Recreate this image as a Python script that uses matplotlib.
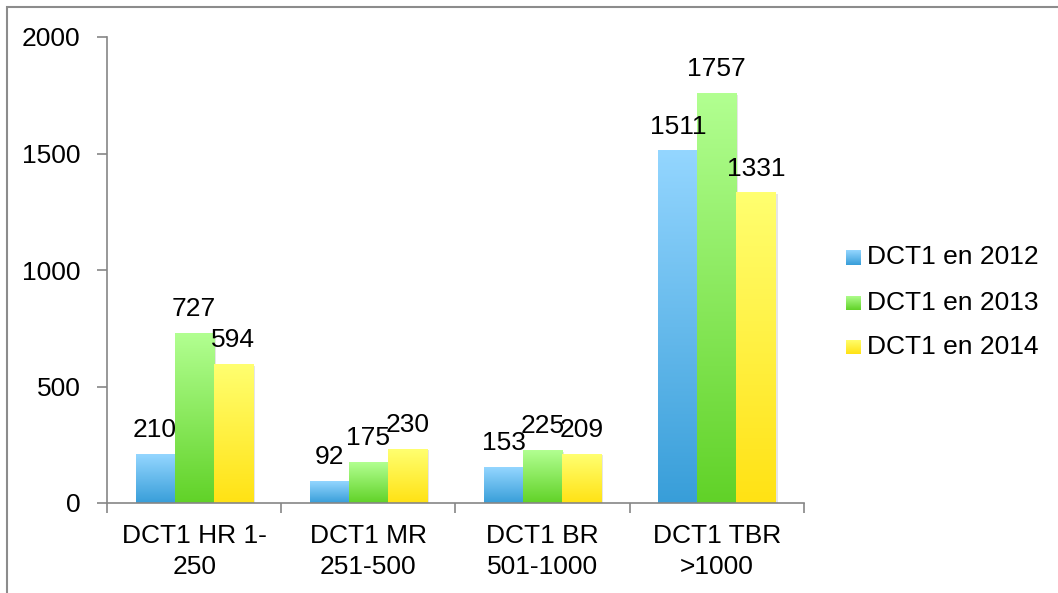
import numpy as np
import matplotlib
matplotlib.use("Agg")
import matplotlib.pyplot as plt
from matplotlib.colors import LinearSegmentedColormap
from matplotlib.patches import Rectangle

categories = ["DCT1 HR 1-\n250", "DCT1 MR\n251-500", "DCT1 BR\n501-1000", "DCT1 TBR\n>1000"]
series_names = ["DCT1 en 2012", "DCT1 en 2013", "DCT1 en 2014"]
v2012 = [210, 92, 153, 1511]
v2013 = [727, 175, 225, 1757]
v2014 = [594, 230, 209, 1331]
series = [v2012, v2013, v2014]
yticks = [0, 500, 1000, 1500, 2000]

grad = [("#94D6FF", "#389ED9"), ("#B2FF91", "#61D228"), ("#FFFF70", "#FFE214")]

plt.rcParams['font.family'] = ['Liberation Sans', 'DejaVu Sans']
FS = 19

W, H = 1058, 593
fig = plt.figure(figsize=(W / 100, H / 100), dpi=100)
ax = fig.add_axes([107 / W, 1 - 503 / H, (804 - 107) / W, (503 - 37) / H])

bw = 0.224
x = np.arange(len(categories))
for si, vals in enumerate(series):
    top, bot = grad[si]
    cmap = LinearSegmentedColormap.from_list("g%d" % si, [bot, top])
    g = np.linspace(0, 1, 256).reshape(-1, 1)
    xs = x + (si - 1) * bw
    bars = ax.bar(xs, vals, width=bw, color="none", edgecolor="none", zorder=2)
    for b, v in zip(bars, vals):
        x0 = b.get_x()
        ax.add_patch(Rectangle((x0 + 0.012, 0), bw, v - 4, facecolor="#000000",
                               alpha=0.10, edgecolor="none", zorder=1.5))
        ax.imshow(g, cmap=cmap, origin="lower", extent=(x0, x0 + bw, 0, v),
                  aspect="auto", zorder=2, interpolation="bilinear")
        ax.annotate(str(v), (x0 + bw / 2, v), xytext=(0, 12.5), textcoords="offset points",
                    ha="center", va="baseline", fontsize=FS, color="black", zorder=4)

ax.set_xlim(-0.5, len(categories) - 0.5)
ax.set_ylim(0, 2000)
ax.set_yticks(yticks)
ax.set_yticklabels([str(t) for t in yticks], fontsize=FS)
ax.set_xticks(np.arange(len(categories) + 1) - 0.5)
ax.set_xticklabels([])
ax.set_xticks(x, minor=True)
ax.set_xticklabels(categories, minor=True, fontsize=FS, linespacing=1.4)
ax.tick_params(axis="x", which="minor", length=0, pad=15)
ax.tick_params(axis="x", which="major", length=7, color="#868686", width=1.2)
ax.tick_params(axis="y", length=7, color="#868686", width=1.2, pad=12)
for s in ["top", "right"]:
    ax.spines[s].set_visible(False)
for s in ["left", "bottom"]:
    ax.spines[s].set_color("#868686")
    ax.spines[s].set_linewidth(1.2)

rows_y = [257, 303, 347]
for si, name in enumerate(series_names):
    top, bot = grad[si]
    cmap = LinearSegmentedColormap.from_list("l%d" % si, [bot, top])
    cy = rows_y[si]
    lax = fig.add_axes([846 / W, 1 - (cy + 7.5) / H, 15 / W, 15 / H])
    lax.imshow(np.linspace(0, 1, 64).reshape(-1, 1), cmap=cmap, origin="lower",
               aspect="auto", extent=(0, 1, 0, 1))
    lax.axis("off")
    fig.text(867 / W, 1 - cy / H, name, fontsize=FS, va="center", ha="left")

fig.add_artist(Rectangle((7 / W, -0.05), 1.2, 1 - 7 / H + 0.05, transform=fig.transFigure,
                         facecolor="none", edgecolor="#8C8C8C", linewidth=1.5))

fig.savefig("out.png", dpi=100)
